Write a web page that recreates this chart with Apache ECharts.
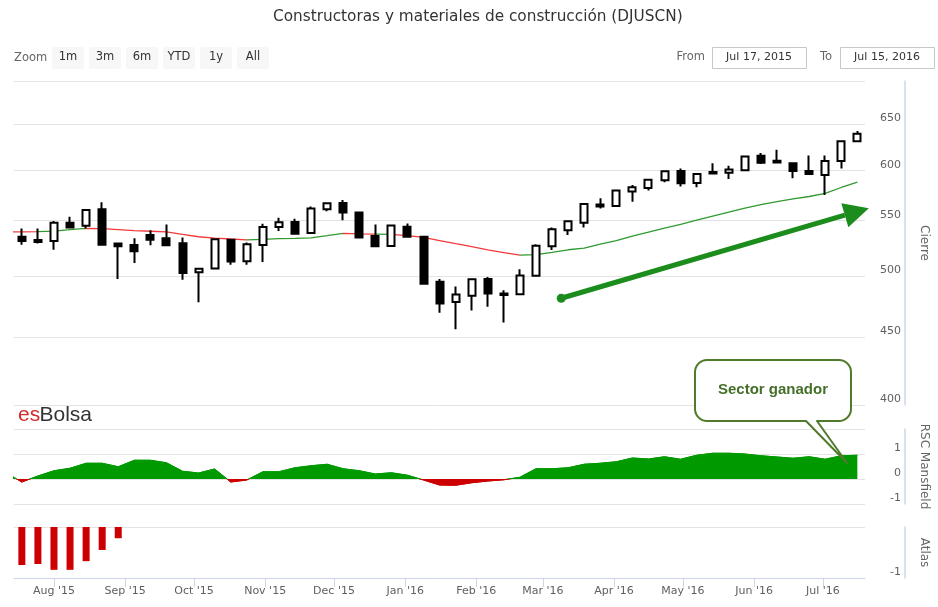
<!DOCTYPE html>
<html>
<head>
<meta charset="utf-8">
<script src="https://cdn.jsdelivr.net/npm/echarts@6/dist/echarts.min.js"></script>
<style>
html,body{margin:0;padding:0;background:#fff;}
#chart{width:938px;height:607px;}
</style>
</head>
<body>
<div id="chart"></div>
<script>
// ---------------- DATA ----------------
const weeks = [
  '2015-07-18','2015-07-25','2015-08-01','2015-08-08','2015-08-15','2015-08-22','2015-08-29',
  '2015-09-05','2015-09-12','2015-09-19','2015-09-26','2015-10-03','2015-10-10','2015-10-17',
  '2015-10-24','2015-10-31','2015-11-07','2015-11-14','2015-11-21','2015-11-28','2015-12-05',
  '2015-12-12','2015-12-19','2015-12-26','2016-01-02','2016-01-09','2016-01-16','2016-01-23',
  '2016-01-30','2016-02-06','2016-02-13','2016-02-20','2016-02-27','2016-03-05','2016-03-12',
  '2016-03-19','2016-03-26','2016-04-02','2016-04-09','2016-04-16','2016-04-23','2016-04-30',
  '2016-05-07','2016-05-14','2016-05-21','2016-05-28','2016-06-04','2016-06-11','2016-06-18',
  '2016-06-25','2016-07-02','2016-07-09','2016-07-16'
];
const opens = [
  534.8,531.8,530.9,547.9,545.2,561.0,528.8,527.3,536.4,533.4,529.0,503.0,506.4,532.1,
  512.8,527.3,543.9,548.8,538.4,561.0,567.0,557.7,535.5,526.4,544.3,534.8,494.8,477.9,
  483.0,497.3,485.0,484.4,500.0,526.1,540.9,547.9,565.5,564.0,578.3,582.0,589.7,599.3,
  587.0,598.3,597.3,600.0,615.3,610.0,607.3,599.3,595.0,609.6,630.8
];
const closes = [
  530.9,530.0,547.9,543.4,560.3,527.5,526.1,521.6,532.1,527.0,502.4,506.1,532.5,512.5,
  527.9,543.9,548.5,537.6,561.7,566.7,557.7,534.3,526.1,545.5,534.8,493.2,476.6,484.2,
  497.0,485.0,483.6,500.3,526.6,541.8,549.4,566.0,563.5,579.3,582.7,590.3,599.0,586.7,
  596.0,596.7,600.8,614.5,607.9,608.0,599.3,596.0,609.6,630.8,639.1
];
const lows = [
  527.5,528.8,523.0,542.5,542.5,527.5,497.3,511.2,527.0,527.0,496.7,477.6,506.4,509.7,
  509.7,512.1,540.3,537.0,538.4,559.0,550.3,534.3,526.1,526.4,534.8,493.2,469.0,456.0,
  471.0,474.0,461.2,484.4,500.0,522.7,536.4,543.4,561.7,564.0,568.3,579.3,587.7,583.3,
  582.7,596.7,591.0,600.0,606.5,608.0,591.7,596.0,575.0,601.8,630.8
];
const highs = [
  542.5,542.5,549.7,553.7,560.3,567.7,528.8,533.4,540.9,546.4,534.3,506.1,533.4,532.1,
  529.7,547.0,552.7,551.7,563.7,567.7,570.0,557.7,546.4,546.4,547.3,534.8,497.3,490.9,
  497.0,499.0,487.7,505.6,528.0,543.4,549.4,566.0,571.7,579.3,585.0,590.3,599.0,601.8,
  596.0,607.3,604.7,614.5,618.2,621.7,607.3,615.6,615.6,630.8,642.0
];
// moving average of the close (one week before the view + each week)
const maPriorWeek = '2015-07-11';
const maPrior = 539.3;
const maValues = [
  539.5,539.6,540.2,541.5,542.7,542.4,541.5,540.5,540.0,539.4,537.1,534.9,533.6,532.8,
  532.1,532.4,533.2,533.4,533.9,535.9,538.0,537.6,537.4,537.0,535.9,534.3,531.4,528.5,
  525.8,522.9,520.5,518.1,518.6,520.6,523.0,524.5,528.2,531.4,535.5,539.1,543.0,546.5,
  550.5,554.3,558.2,562.1,565.4,568.4,571.0,573.4,576.5,582.4,587.7
];
// RSC Mansfield
const rscPrior = 0.25;
const rscValues = [
  -0.12,0.12,0.33,0.43,0.63,0.63,0.49,0.75,0.75,0.65,0.31,0.24,0.40,-0.12,
  -0.04,0.29,0.29,0.45,0.53,0.59,0.41,0.33,0.20,0.25,0.15,-0.04,-0.24,-0.25,
  -0.15,-0.08,-0.03,0.07,0.41,0.41,0.45,0.59,0.63,0.69,0.84,0.80,0.89,0.79,
  0.95,1.03,1.03,1.00,0.93,0.88,0.83,0.89,0.79,0.93,0.95
];
// Atlas (first weeks only)
const atlasValues = [-0.745,-0.725,-0.84,-0.84,-0.67,-0.45,-0.22];

// axis ticks / labels
const priceTicks = [400,450,500,550,600,650,700];
const priceLabels = [400,450,500,550,600,650];
const monthTicks = ['2015-08-01','2015-09-01','2015-10-01','2015-11-01','2015-12-01','2016-01-01',
  '2016-02-01','2016-03-01','2016-04-01','2016-05-01','2016-06-01','2016-07-01'];
const monthNames = ['Jan','Feb','Mar','Apr','May','Jun','Jul','Aug','Sep','Oct','Nov','Dec'];
const zoomButtons = ['1m','3m','6m','YTD','1y','All'];
const fromLabel = 'Jul 17, 2015';
const toLabel = 'Jul 15, 2016';
const titleText = 'Constructoras y materiales de construcción (DJUSCN)';
const calloutText = 'Sector ganador';
// annotation arrow, in data units (date, price)
const arrowFrom = ['2016-03-09', 481];
const arrowTo = ['2016-07-21', 562];

// ---------------- HELPERS ----------------
function ts(s){ const p = s.split('-').map(Number); return new Date(p[0], p[1]-1, p[2]).getTime(); }
const viewMin = new Date(2015, 6, 14, 14).getTime();
const viewMax = new Date(2016, 6, 19, 8).getTime();

const GREEN_MA = '#2f9a2f', RED_MA = '#f23a3a';
const GREEN_AREA = '#009900', RED_AREA = '#cc0000';
const FONT = 'DejaVu Sans';

const candleData = weeks.map((w,i) => [ts(w), opens[i], closes[i], lows[i], highs[i]]);
const maData = [[ts(maPriorWeek), maPrior]].concat(weeks.map((w,i) => [ts(w), maValues[i]]));
const rscData = [[ts(maPriorWeek), rscPrior]].concat(weeks.map((w,i) => [ts(w), rscValues[i]]));
const atlasData = atlasValues.map((v,i) => [ts(weeks[i]), v]);
const maPieces = weeks.map((w,i) => ({
  gt: i === 0 ? ts(maPriorWeek) : ts(weeks[i-1]),
  lte: ts(w),
  color: closes[i] >= maValues[i] ? GREEN_MA : RED_MA
}));

function fmtMonth(v){ const d = new Date(v); return monthNames[d.getMonth()] + " '" + String(d.getFullYear()).slice(2); }

const hiddenX = (gi) => ({
  type: 'value', gridIndex: gi, min: viewMin, max: viewMax, scale: true,
  axisLine: {show:false, onZero:false}, axisTick: {show:false}, axisLabel: {show:false}, splitLine: {show:false}
});
const yCommon = {
  position: 'right', offset: 40,
  axisLine: {show: true, onZero: false, lineStyle: {color: '#ccd6eb', width: 1.5}},
  axisTick: {show: false},
  splitLine: {show: true, lineStyle: {color: '#e3e3e3', width: 1}},
  nameLocation: 'middle', nameGap: 13, nameRotate: -90,
  nameTextStyle: {color: '#666', fontSize: 12, fontFamily: FONT}
};
const yLabel = {inside: true, margin: 4, color: '#606060', fontSize: 11, fontFamily: FONT, verticalAlign: 'bottom'};

const chart = echarts.init(document.getElementById('chart'), null, {renderer: 'canvas'});
chart.setOption({
  animation: false,
  backgroundColor: '#fff',
  title: {text: titleText, left: 268, top: 5,
    textStyle: {fontFamily: FONT, fontSize: 15.3, fontWeight: 'normal', color: '#333'}},
  grid: [
    {left: 14, top: 81, width: 852, height: 324, containLabel: false},
    {left: 14, top: 429, width: 852, height: 75, containLabel: false},
    {left: 14, top: 527, width: 852, height: 51, containLabel: false}
  ],
  xAxis: [
    hiddenX(0), hiddenX(1),
    {
      type: 'value', gridIndex: 2, min: viewMin, max: viewMax, scale: true, position: 'bottom',
      axisLine: {show: true, onZero: false, lineStyle: {color: '#ccd6eb', width: 1}},
      axisTick: {show: true, length: 9, lineStyle: {color: '#ccd6eb'}, customValues: monthTicks.map(ts)},
      axisLabel: {color: '#606060', fontSize: 11, fontFamily: FONT, margin: 8,
        customValues: monthTicks.map(ts), formatter: fmtMonth},
      splitLine: {show: false}
    }
  ],
  yAxis: [
    Object.assign({}, yCommon, {
      type: 'log', gridIndex: 0, min: 400, max: 700, name: 'Cierre',
      axisTick: {show: false, customValues: priceTicks},
      axisLabel: Object.assign({}, yLabel, {customValues: priceLabels})
    }),
    Object.assign({}, yCommon, {
      type: 'value', gridIndex: 1, min: -1, max: 2, interval: 1, name: 'RSC Mansfield',
      axisLabel: Object.assign({}, yLabel, {showMaxLabel: false})
    }),
    Object.assign({}, yCommon, {
      type: 'value', gridIndex: 2, min: -1, max: 0, interval: 1, name: 'Atlas',
      axisLabel: Object.assign({}, yLabel, {showMaxLabel: false})
    })
  ],
  visualMap: [
    {type: 'piecewise', show: false, seriesIndex: 0, dimension: 0, pieces: maPieces, outOfRange: {color: GREEN_MA}},
    {type: 'piecewise', show: false, seriesIndex: 2, dimension: 1,
      pieces: [{gte: -5, lt: 0, color: RED_AREA}, {gte: 0, lte: 5, color: GREEN_AREA}],
      outOfRange: {color: GREEN_AREA}}
  ],
  series: [
    {
      name: 'MA', type: 'line', xAxisIndex: 0, yAxisIndex: 0, data: maData,
      showSymbol: false, symbol: 'none', lineStyle: {width: 1.3}, z: 2
    },
    {
      name: 'Cierre', type: 'candlestick', xAxisIndex: 0, yAxisIndex: 0, data: candleData,
      barWidth: 7.5,
      itemStyle: {color: '#ffffff', color0: '#000000', borderColor: '#000000', borderColor0: '#000000', borderWidth: 2},
      z: 3
    },
    {
      name: 'RSC Mansfield', type: 'line', xAxisIndex: 1, yAxisIndex: 1, data: rscData,
      showSymbol: false, symbol: 'none', lineStyle: {width: 1}, areaStyle: {opacity: 1}
    },
    {
      name: 'Atlas', type: 'bar', xAxisIndex: 2, yAxisIndex: 2, data: atlasData,
      barWidth: 7, itemStyle: {color: '#cc0000'}
    }
  ]
});

// ---------------- ANNOTATIONS / UI ----------------
const A = chart.convertToPixel({gridIndex: 0}, [ts(arrowFrom[0]), arrowFrom[1]]);
const B = chart.convertToPixel({gridIndex: 0}, [ts(arrowTo[0]), arrowTo[1]]);
const dx = B[0]-A[0], dy = B[1]-A[1], len = Math.sqrt(dx*dx+dy*dy);
const ux = dx/len, uy = dy/len, nx = -uy, ny = ux;
const headLen = 25, headHalf = 12.5;
const base = [B[0]-headLen*ux, B[1]-headLen*uy];
const ARROW = '#1c8c1c';

// callout outline (rounded box with a pointer), in pixels
function arcPts(cx, cy, r, a0, a1){
  const out = [];
  for (let k = 0; k <= 8; k++) { const a = (a0 + (a1-a0)*k/8) * Math.PI/180; out.push([cx + r*Math.cos(a), cy + r*Math.sin(a)]); }
  return out;
}
const box = {x0: 695, y0: 360, x1: 851, y1: 421, r: 12};
const calloutPts = [].concat(
  arcPts(box.x1-box.r, box.y0+box.r, box.r, -90, 0),
  arcPts(box.x1-box.r, box.y1-box.r, box.r, 0, 90),
  [[817, box.y1], [847, 463], [806, box.y1]],
  arcPts(box.x0+box.r, box.y1-box.r, box.r, 90, 180),
  arcPts(box.x0+box.r, box.y0+box.r, box.r, 180, 270)
);

const graphics = [];
graphics.push({type:'text', style:{text:'Zoom', x:14, y:58, verticalAlign:'middle', font:'11.5px "DejaVu Sans"', fill:'#666'}});
zoomButtons.forEach((b,k) => {
  const x = 52 + 37*k;
  graphics.push({type:'rect', shape:{x:x, y:47, width:32, height:22, r:2}, style:{fill:'#f7f7f7'}});
  graphics.push({type:'text', style:{text:b, x:x+16, y:57.5, align:'center', verticalAlign:'middle', font:'11.5px "DejaVu Sans"', fill:'#333'}});
});
graphics.push({type:'text', style:{text:'From', x:705, y:57.5, align:'right', verticalAlign:'middle', font:'11.5px "DejaVu Sans"', fill:'#666'}});
graphics.push({type:'rect', shape:{x:712.5, y:47.5, width:94, height:21}, style:{fill:'#fff', stroke:'#c8c8c8', lineWidth:1}});
graphics.push({type:'text', style:{text:fromLabel, x:759, y:57.5, align:'center', verticalAlign:'middle', font:'11px "DejaVu Sans"', fill:'#333'}});
graphics.push({type:'text', style:{text:'To', x:832, y:57.5, align:'right', verticalAlign:'middle', font:'11.5px "DejaVu Sans"', fill:'#666'}});
graphics.push({type:'rect', shape:{x:840.5, y:47.5, width:94, height:21}, style:{fill:'#fff', stroke:'#c8c8c8', lineWidth:1}});
graphics.push({type:'text', style:{text:toLabel, x:887, y:57.5, align:'center', verticalAlign:'middle', font:'11px "DejaVu Sans"', fill:'#333'}});
// logo
graphics.push({type:'text', z:50, style:{text:'es', x:18, y:426, verticalAlign:'bottom', font:'21px "Liberation Sans"', fill:'#d42a2a'}});
graphics.push({type:'text', z:50, style:{text:'Bolsa', x:39.5, y:426, verticalAlign:'bottom', font:'21px "Liberation Sans"', fill:'#333'}});
// arrow
graphics.push({type:'line', z:60, shape:{x1:A[0], y1:A[1], x2:base[0], y2:base[1]}, style:{stroke:ARROW, lineWidth:5}});
graphics.push({type:'polygon', z:60, shape:{points:[[B[0],B[1]],[base[0]+headHalf*nx, base[1]+headHalf*ny],[base[0]-headHalf*nx, base[1]-headHalf*ny]]}, style:{fill:ARROW}});
graphics.push({type:'circle', z:60, shape:{cx:A[0], cy:A[1], r:4.5}, style:{fill:ARROW}});
// callout
graphics.push({type:'polygon', z:70, shape:{points: calloutPts},
  style:{fill:'#ffffff', stroke:'#507a2c', lineWidth:2, lineJoin:'round'}});
graphics.push({type:'text', z:71, style:{text:calloutText, x:773, y:390, align:'center', verticalAlign:'middle', font:'bold 15px "Liberation Sans"', fill:'#44702a'}});

chart.setOption({graphic: graphics});
</script>
</body>
</html>
